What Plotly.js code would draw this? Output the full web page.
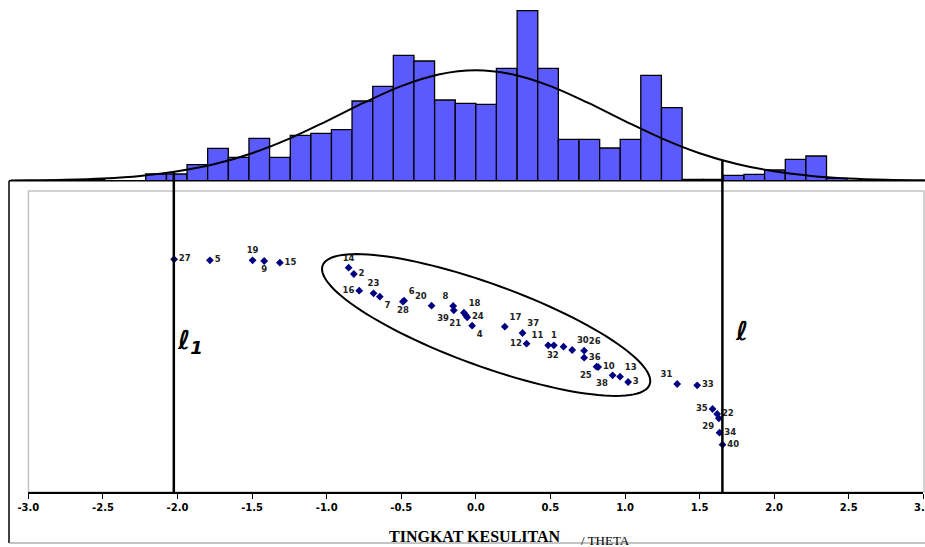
<!DOCTYPE html>
<html><head><meta charset="utf-8">
<script src="https://cdn.plot.ly/plotly-3.0.1.min.js"></script>
<style>html,body{margin:0;padding:0;background:#fff}#chart{width:925px;height:547px}</style>
</head><body><div id="chart"></div>
<script>
// ---------- DATA ----------
const itemLabels = ['27','5','19','9','15','14','2','16','23','7','6','28','20','8','39','18','24','21','4','17','37','12','11','1','32','30','26','36','10','25','13','38','3','31','33','35','22','29','34','40'];
const itemTheta = [-2.023,-1.783,-1.497,-1.419,-1.314,-0.853,-0.818,-0.782,-0.686,-0.644,-0.481,-0.489,-0.297,-0.152,-0.148,-0.080,-0.058,-0.067,-0.025,0.194,0.313,0.340,0.485,0.523,0.588,0.646,0.726,0.726,0.820,0.809,0.967,0.917,1.021,1.350,1.484,1.587,1.618,1.629,1.634,1.654];
const itemLevel = [232.7,231.7,231.7,231.0,229.3,224.3,218.0,201.3,198.7,195.3,191.3,190.3,186.3,186.0,181.7,179.3,174.7,176.7,166.3,165.3,159.0,148.3,146.7,146.7,145.3,142.0,141.3,134.3,125.0,125.3,115.3,116.7,110.0,108.0,106.7,83.0,78.0,73.7,59.3,47.3];

const histCenters = [-2.559,-2.144,-2.005,-1.867,-1.729,-1.590,-1.452,-1.314,-1.175,-1.037,-0.899,-0.761,-0.622,-0.484,-0.346,-0.207,-0.069,0.069,0.207,0.346,0.484,0.622,0.761,0.899,1.037,1.175,1.314,1.452,1.590,1.729,1.867,2.005,2.144,2.282,2.420];
const histHeights = [1.0,6.7,6.7,16.0,32.4,23.4,42.4,23.4,45.4,47.4,51.0,79.7,94.4,125.4,119.7,80.7,77.4,76.4,112.4,170.0,112.4,41.4,41.4,32.7,41.4,105.4,73.0,1.4,1.4,5.4,6.4,10.7,21.4,24.7,2.4];

const curveTheta  = [-3.12,-3.0,-2.75,-2.5,-2.25,-2.0,-1.75,-1.5,-1.25,-1.0,-0.75,-0.5,-0.25,0,0.25,0.5,0.75,1.0,1.25,1.5,1.75,2.0,2.25,2.5,2.75,3.01];
const curveHeight = [0.3,0.4,1.0,2.3,4.8,9.4,16.7,27.5,42.1,59.6,78.0,94.6,106.2,110.4,106.2,94.6,78.0,59.6,42.1,27.5,16.7,9.4,4.8,2.3,1.0,0.4];

const limitTheta = [-2.025, 1.653];
const limitNames = ['ℓ', 'ℓ'];
const tickVals = [-3,-2.5,-2,-1.5,-1,-0.5,0,0.5,1,1.5,2,2.5,3];
const tickText = ['-3.0','-2.5','-2.0','-1.5','-1.0','-0.5','0.0','0.5','1.0','1.5','2.0','2.5','3.0'];

// ---------- STYLE / LAYOUT ----------
const labelPos = ['middle right','middle right','top center','bottom center','middle right','top center','middle right','middle left','top center','bottom right','top right','bottom center','top left','top left','bottom left','top right','middle right','bottom left','bottom right','top right','top right','middle left','top left','top center','bottom left','top right','top right','middle right','middle right','bottom left','top right','bottom left','middle right','top left','middle right','middle left','middle right','bottom left','middle right','middle right'];

const W = 925, H = 547;
const pxM3 = 28.4, pxP3 = 923.3;
const pxPerUnit = (pxP3 - pxM3) / 6;
const fy = py => (H - py) / H;

const ellC = {theta: 0.069, level: 167}, ellA = 174, ellB = 41, ellAng = 20.0 * Math.PI / 180;
let ellPath = '';
for (let i = 0; i <= 120; i++) {
  const t = i / 120 * 2 * Math.PI;
  const dx = ellA * Math.cos(t) * Math.cos(ellAng) - ellB * Math.sin(t) * Math.sin(ellAng);
  const dy = ellA * Math.cos(t) * Math.sin(ellAng) + ellB * Math.sin(t) * Math.cos(ellAng);
  const x = ellC.theta + dx / pxPerUnit, y = ellC.level - dy;
  ellPath += (i === 0 ? 'M' : 'L') + x.toFixed(4) + ',' + y.toFixed(2);
}
ellPath += 'Z';

const tickFont = {family:'DejaVu Sans', size:10, weight:'bold', color:'#000'};
const ellFont = {family:'DejaVu Sans', size:26, weight:'bold', style:'italic', color:'#000'};

const traces = [
  {type:'bar', x: histCenters, y: histHeights, width: 0.1383, xaxis:'x2', yaxis:'y2',
   marker:{color:'#5A5AFF', line:{color:'#000', width:1.3}}, hoverinfo:'skip'},
  {type:'scatter', mode:'lines', x: curveTheta, y: curveHeight, xaxis:'x2', yaxis:'y2',
   line:{color:'#000', width:2, shape:'spline', smoothing:1}, hoverinfo:'skip'},
  {type:'scatter', mode:'markers+text', x: itemTheta, y: itemLevel, text: itemLabels,
   textposition: labelPos, cliponaxis:false, xaxis:'x', yaxis:'y',
   marker:{symbol:'diamond', size:6, color:'#000080'},
   textfont:{family:'DejaVu Sans', size:8.5, weight:'bold', color:'#222'}}
];

const layout = {
  width: W, height: H, margin:{l:0,r:0,t:0,b:0}, showlegend:false,
  paper_bgcolor:'#fff', plot_bgcolor:'rgba(0,0,0,0)',
  xaxis:{domain:[pxM3/W, pxP3/W], range:[-3,3], anchor:'y', tickvals: tickVals, ticktext: tickText,
    ticks:'outside', ticklen:5, tickwidth:1, tickcolor:'#000', showline:true, linecolor:'#000', linewidth:1.5,
    showgrid:false, zeroline:false, tickfont: tickFont},
  yaxis:{domain:[fy(492), fy(191)], range:[0,301], visible:false, fixedrange:true},
  xaxis2:{domain:[0,1], range:[-3 - pxM3/pxPerUnit, 3 + (W - pxP3)/pxPerUnit], anchor:'y2', visible:false},
  yaxis2:{domain:[fy(180.7), 1], range:[0,180.7], visible:false},
  bargap:0,
  shapes:[
    {type:'rect', xref:'paper', yref:'paper', x0:pxM3/W, x1:924/W, y0:fy(492), y1:fy(191), line:{color:'#c4c4c4', width:1.5}, layer:'below'},
    {type:'line', xref:'paper', yref:'paper', x0:9/W, x1:1, y0:fy(180.7), y1:fy(180.7), line:{color:'#000', width:1.5}},
    {type:'line', xref:'paper', yref:'paper', x0:9/W, x1:9/W, y0:fy(543), y1:fy(180.7), line:{color:'#000', width:1.5}},
    {type:'line', xref:'paper', yref:'paper', x0:9/W, x1:1, y0:fy(543), y1:fy(543), line:{color:'#888', width:1}},
    {type:'line', xref:'x', yref:'paper', x0:limitTheta[0], x1:limitTheta[0], y0:fy(492), y1:fy(171), line:{color:'#000', width:2.5}},
    {type:'line', xref:'x', yref:'paper', x0:limitTheta[1], x1:limitTheta[1], y0:fy(492), y1:fy(160), line:{color:'#000', width:2.5}},
    {type:'path', xref:'x', yref:'y', path: ellPath, line:{color:'#000', width:2}}
  ],
  annotations:[
    {xref:'x', yref:'y', x:limitTheta[0] + 1/pxPerUnit, y:151, xanchor:'left', yanchor:'middle', showarrow:false,
     text: limitNames[0] + '<sub>1</sub>', font: ellFont},
    {xref:'x', yref:'y', x:limitTheta[1] + 11/pxPerUnit, y:161, xanchor:'left', yanchor:'middle', showarrow:false,
     text: limitNames[1], font: ellFont},
    {xref:'x', yref:'paper', x:tickVals[12], y:fy(507), xanchor:'center', yanchor:'middle', showarrow:false,
     text: tickText[12], font: tickFont},
    {xref:'paper', yref:'paper', x:475.5/W, y:fy(536), xanchor:'center', yanchor:'middle', showarrow:false,
     text:'TINGKAT KESULITAN', font:{family:'Liberation Serif', size:16, weight:'bold', color:'#000'}},
    {xref:'paper', yref:'paper', x:605.5/W, y:fy(540), xanchor:'center', yanchor:'middle', showarrow:false,
     text:'/ THETA', font:{family:'Liberation Serif', size:13, color:'#000'}}
  ]
};

Plotly.newPlot('chart', traces, layout, {displayModeBar:false, staticPlot:true});
</script></body></html>
